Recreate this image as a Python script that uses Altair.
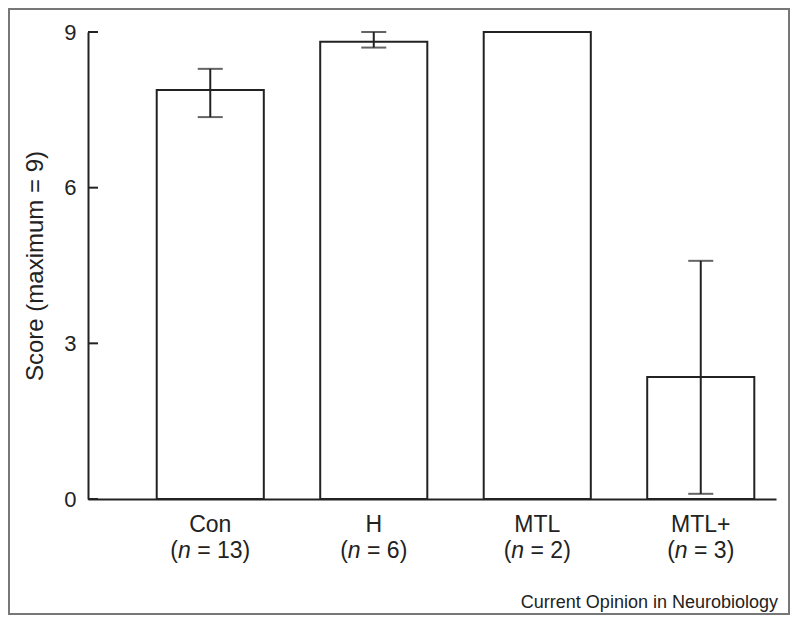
import altair as alt
import pandas as pd

# ---- data ----
categories = ["Con", "H", "MTL", "MTL+"]
n_values = [13, 6, 2, 3]
scores = [7.88, 8.81, 9.0, 2.35]
err_low = [7.36, 8.70, None, 0.10]
err_high = [8.29, 9.00, None, 4.59]
y_ticks = [0, 3, 6, 9]
y_title = "Score (maximum = 9)"
footer = "Current Opinion in Neurobiology"

FONT = "Liberation Sans"
INK = "#222222"
FS = 23

# Liberation Sans advance widths (per 1000 em)
ADV = {"(": 333, ")": 333, " ": 278, "=": 584, "n": 556}
for d in "0123456789":
    ADV[d] = 556


def tw(s):
    return sum(ADV.get(c, 556) for c in s) * FS / 1000.0


bars = pd.DataFrame({"cat": categories, "score": scores})
err = pd.DataFrame(
    [
        {"cat": c, "lo": lo, "hi": hi}
        for c, lo, hi in zip(categories, err_low, err_high)
        if lo is not None
    ]
)
ticks_df = pd.DataFrame({"v": y_ticks})
n_df = pd.DataFrame({"cat": categories, "n": n_values})

W, H = 688, 467

xscale = alt.Scale(domain=categories, paddingInner=0.345, paddingOuter=0.2765, align=0.76)
yscale = alt.Scale(domain=[0, 9], nice=False, zero=True)
X = alt.X("cat:N", scale=xscale, sort=categories)

x_enc = alt.X(
    "cat:N",
    scale=xscale,
    sort=categories,
    axis=alt.Axis(
        title=None, labels=False, ticks=False, domain=True,
        domainColor=INK, domainWidth=2,
    ),
)

border = alt.Chart(pd.DataFrame({"a": [0]})).mark_rect(
    fill="white", fillOpacity=0, stroke="#777777", strokeWidth=2
).encode(
    x=alt.value(-79), x2=alt.value(701), y=alt.value(-23), y2=alt.value(582)
)

bar_layer = alt.Chart(bars).mark_bar(
    fill="white", stroke=INK, strokeWidth=2
).encode(
    x=x_enc,
    y=alt.Y(
        "score:Q",
        scale=yscale,
        axis=alt.Axis(
            values=y_ticks, title=y_title, grid=False, ticks=False, tickSize=0,
            labelPadding=12, labelFontSize=22, labelFont=FONT, labelColor=INK,
            domainColor=INK, domainWidth=2,
            titleFont=FONT, titleFontSize=24, titleFontWeight="normal",
            titleColor=INK, titleX=-53, titleY=H / 2, titleAngle=-90,
            titleAlign="center", titleBaseline="middle",
        ),
    ),
)

err_rule = alt.Chart(err).mark_rule(color=INK, strokeWidth=2).encode(
    x=X, y=alt.Y("lo:Q", scale=yscale), y2="hi:Q",
)
cap_lo = alt.Chart(err).mark_tick(color=INK, thickness=2, size=25, orient="horizontal").encode(
    x=X, y=alt.Y("lo:Q", scale=yscale),
)
cap_hi = alt.Chart(err).mark_tick(color=INK, thickness=2, size=25, orient="horizontal").encode(
    x=X, y=alt.Y("hi:Q", scale=yscale),
)

tick_rules = alt.Chart(ticks_df).mark_rule(color=INK, strokeWidth=2).encode(
    y=alt.Y("v:Q", scale=yscale), x=alt.value(0), x2=alt.value(10)
)

cat_text = alt.Chart(bars).mark_text(
    font=FONT, fontSize=FS, color=INK, align="center", baseline="alphabetic"
).encode(x=X, y=alt.value(H + 33), text="cat:N")

# second label line: "(" + italic "n" + " = k)"
line2_layers = []
for c, n in zip(categories, n_values):
    rest = f"= {n})"
    total = tw("(") + tw("n") + tw(" ") + tw(rest)
    start = -total / 2
    pieces = [
        ("'('", start, "normal"),
        ("'n'", start + tw("("), "italic"),
        (f"'{rest}'", start + tw("(") + tw("n") + tw(" "), "normal"),
    ]
    for expr, off, style in pieces:
        line2_layers.append(
            alt.Chart(n_df).transform_filter(alt.datum.cat == c)
            .transform_calculate(label=expr)
            .mark_text(
                font=FONT, fontSize=FS, color=INK, align="left",
                baseline="alphabetic", fontStyle=style, dx=off,
            ).encode(x=X, y=alt.value(H + 59), text="label:N")
        )

footer_text = alt.Chart(pd.DataFrame({"t": [footer]})).mark_text(
    font=FONT, fontSize=18, color=INK, align="right", baseline="alphabetic"
).encode(x=alt.value(690), y=alt.value(H + 109), text="t:N")

chart = alt.layer(
    border, bar_layer, err_rule, cap_lo, cap_hi, tick_rules,
    cat_text, *line2_layers, footer_text,
).properties(
    width=W, height=H,
    autosize=alt.AutoSizeParams(type="none"),
    padding={"left": 80, "top": 24, "right": 14, "bottom": 116},
).configure_view(strokeWidth=0)

chart.save("out.html", embed_options={"renderer": "svg", "actions": False})
